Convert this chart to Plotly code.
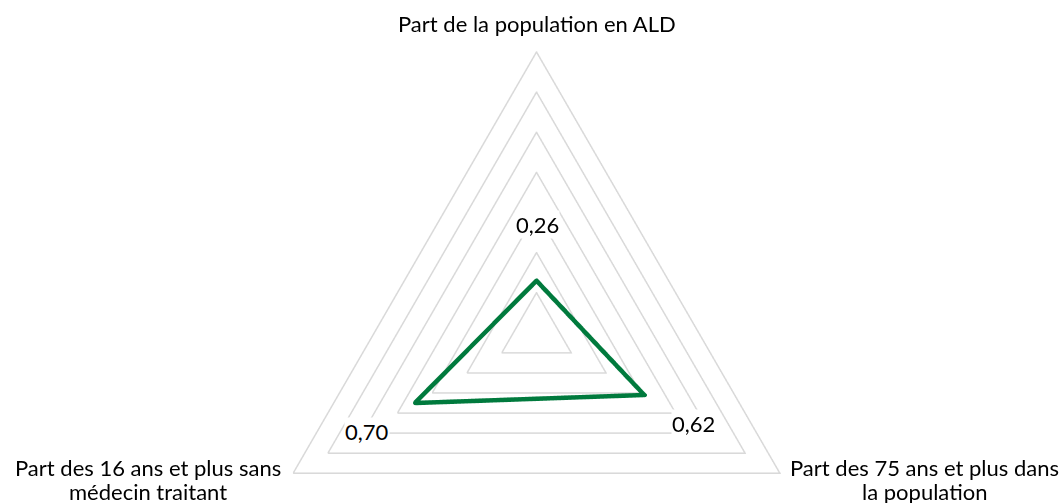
import math
import plotly.graph_objects as go

# ---- data ----
categories = [
    "Part de la population en ALD",
    "Part des 75 ans et plus dans la population",
    "Part des 16 ans et plus sans médecin traitant",
]
values = [0.26, 0.62, 0.70]
value_labels = ["0,26", "0,62", "0,70"]
ring_levels = [0.2, 0.4, 0.6, 0.8, 1.0, 1.2, 1.4]
category_label_lines = [
    ["Part de la population en ALD"],
    ["Part des 75 ans et plus dans", "la population"],
    ["Part des 16 ans et plus sans", "médecin traitant"],
]

# ---- style / layout constants ----
W, H = 1063, 503
CX, CY = 537, 332.7          # centre of the radar, px
RING_MAX_PX = 281            # px radius of the outer ring
RMAX = 1.41                  # radial range max (slightly above outer ring)
R_PX = RING_MAX_PX * RMAX / ring_levels[-1]
SECTOR = [-31, 211]
LABEL_OFFSET = 0.28
FONT = "Lato, Calibri, Carlito, sans-serif"
FSIZE = 22
TXT = "#000000"

ymin_bbox = math.sin(math.radians(SECTOR[0]))
left = CX - R_PX
right = CX + R_PX
top = CY - R_PX
bottom = CY - ymin_bbox * R_PX

closed_theta = categories + [categories[0]]

fig = go.Figure()

# grid rings (triangles) drawn from ring levels
for lv in ring_levels:
    fig.add_trace(go.Scatterpolargl(
        r=[lv] * len(closed_theta),
        theta=closed_theta,
        mode="lines",
        line=dict(color="#d9d9d9", width=1.5),
        hoverinfo="skip",
        showlegend=False,
    ))

# data series
fig.add_trace(go.Scatterpolargl(
    r=values + [values[0]],
    theta=closed_theta,
    mode="lines",
    line=dict(color="#007a3d", width=4.5),
    showlegend=False,
    name="Série",
))

annotations = []

# value labels: placed along each category direction, outside the point,
# with a white background (drawn above the WebGL layer)
n = len(categories)
for i, (v, lab) in enumerate(zip(values, value_labels)):
    ang = math.radians(90 - 360 / n * i)
    rp = (v + LABEL_OFFSET) / RMAX * R_PX
    px = CX + rp * math.cos(ang)
    py = CY - rp * math.sin(ang)
    annotations.append(dict(
        text=lab, x=px / W, y=1 - py / H, xref="paper", yref="paper",
        showarrow=False, xanchor="center", yanchor="middle",
        bgcolor="white", borderpad=0,
        font=dict(family=FONT, size=FSIZE, color=TXT),
    ))

# category labels (one annotation per text line)
label_anchor_px = [(537, 24), (924, 467), (147.5, 467)]
LINE_GAP = 24
for lines, (ax, ay) in zip(category_label_lines, label_anchor_px):
    for k, line in enumerate(lines):
        annotations.append(dict(
            text=line, x=ax / W, y=1 - (ay + k * LINE_GAP) / H,
            xref="paper", yref="paper", showarrow=False,
            xanchor="center", yanchor="middle",
            font=dict(family=FONT, size=FSIZE, color=TXT),
        ))

fig.update_layout(
    width=W, height=H,
    margin=dict(l=0, r=0, t=0, b=0),
    paper_bgcolor="white",
    hovermode=False,
    polar=dict(
        domain=dict(x=[left / W, right / W], y=[1 - bottom / H, 1 - top / H]),
        sector=SECTOR,
        gridshape="linear",
        bgcolor="white",
        radialaxis=dict(range=[0, RMAX], visible=False, showgrid=False,
                        showline=False, showticklabels=False, ticks=""),
        angularaxis=dict(type="category", categoryarray=categories,
                         rotation=90, direction="clockwise",
                         showgrid=False, showline=False,
                         showticklabels=False, ticks=""),
    ),
    annotations=annotations,
)

fig.write_html(
    "out.html",
    config={"displayModeBar": False},
    post_script="document.body.style.margin='0';document.body.style.overflow='hidden';",
)
